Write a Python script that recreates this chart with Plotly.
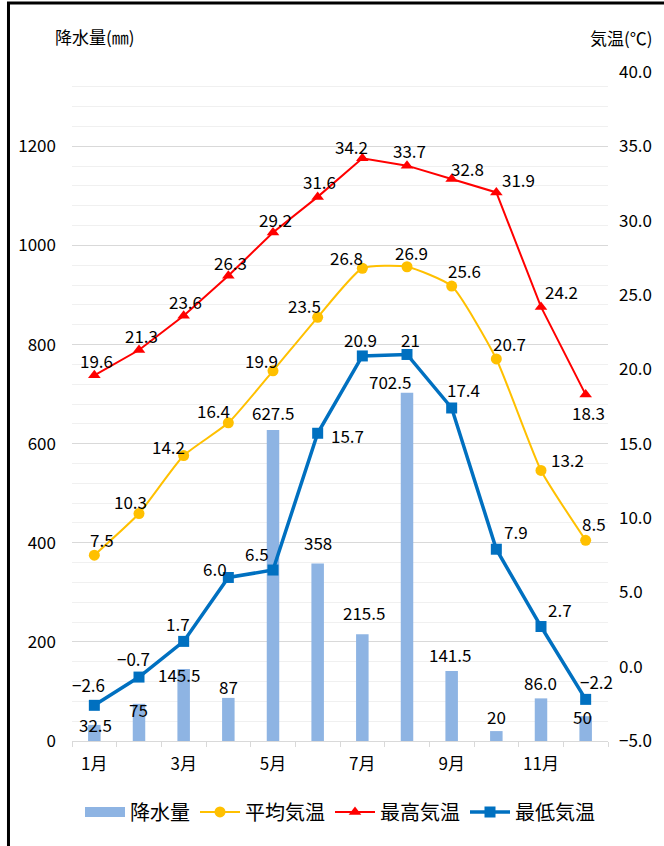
import plotly.graph_objects as go

# ---- data ----
months = ['1月', '2月', '3月', '4月', '5月', '6月', '7月', '8月', '9月', '10月', '11月', '12月']
month_ticktext = ['1月', '', '3月', '', '5月', '', '7月', '', '9月', '', '11月', '']
precip = [32.5, 75, 145.5, 87, 627.5, 358, 215.5, 702.5, 141.5, 20, 86.0, 50]
precip_text = ['32.5', '75', '145.5', '87', '627.5', '358', '215.5', '702.5', '141.5', '20', '86.0', '50']
t_avg = [7.5, 10.3, 14.2, 16.4, 19.9, 23.5, 26.8, 26.9, 25.6, 20.7, 13.2, 8.5]
t_max = [19.6, 21.3, 23.6, 26.3, 29.2, 31.6, 34.2, 33.7, 32.8, 31.9, 24.2, 18.3]
t_min = [-2.6, -0.7, 1.7, 6.0, 6.5, 15.7, 20.9, 21, 17.4, 7.9, 2.7, -2.2]
t_min_text = ['\u22122.6', '\u22120.7', '1.7', '6.0', '6.5', '15.7', '20.9', '21', '17.4', '7.9', '2.7', '\u22122.2']
y2_ticks = [-5, 0, 5, 10, 15, 20, 25, 30, 35, 40]

# ---- label offsets in pixels (dx, up) ----
precip_off = [(1.5, 0), (-1, -6), (-4.5, -6), (0, 11), (0, 18), (0, 21), (1.5, 22), (-17.5, 11),
              (-1.5, 16), (0, 15), (-1, 16), (-3.5, 0)]
max_off = [(2, 14.5), (2, 15), (2, 14), (2, 13), (2, 13.5), (2, 15), (-10.5, 12), (2, 15.5),
           (15.5, 11), (22, 13), (20.5, 15), (3, -18)]
avg_off = [(8, 16), (-9, 12), (-15.5, 9.5), (-14.5, 12), (-12, 10.5), (-13, 12), (-16, 11), (4, 14),
           (13, 15.5), (13, 15), (26, 10.5), (8, 17)]
min_off = [(-5.5, 21), (-6, 18.5), (-6, 17.5), (-13, 8.5), (-16.5, 17), (29.5, -2), (-2, 16.5), (3, 15),
           (11.5, 18), (19.5, 17.5), (19, 17.5), (10.5, 18)]

FONT = "Noto Sans CJK JP"
C_BAR = '#8EB4E3'
C_AVG = '#FFC000'
C_MAX = '#FF0000'
C_MIN = '#0070C0'

fig = go.Figure()
fig.add_trace(go.Bar(x=months, y=precip, name='降水量', marker=dict(color=C_BAR, line=dict(width=0)),
                     yaxis='y', showlegend=False))
# legend-only entry drawn as a wide swatch like the original
fig.add_trace(go.Scatter(x=[None], y=[None], name='降水量', mode='lines', yaxis='y',
                         line=dict(color=C_BAR, width=10)))
fig.add_trace(go.Scatter(x=months, y=t_avg, name='平均気温', mode='lines+markers', yaxis='y2',
                         line=dict(color=C_AVG, width=2, shape='spline', smoothing=0.5),
                         marker=dict(symbol='circle', size=11, color=C_AVG)))
fig.add_trace(go.Scatter(x=months, y=t_max, name='最高気温', mode='lines+markers', yaxis='y2',
                         line=dict(color=C_MAX, width=2),
                         marker=dict(symbol='triangle-up', size=11, color=C_MAX)))
fig.add_trace(go.Scatter(x=months, y=t_min, name='最低気温', mode='lines+markers', yaxis='y2',
                         line=dict(color=C_MIN, width=3.5),
                         marker=dict(symbol='square', size=11, color=C_MIN)))

annotations = []
def add_labels(vals, texts, offs, yref):
    for m, v, t, (dx, up) in zip(months, vals, texts, offs):
        annotations.append(dict(x=m, y=v, xref='x', yref=yref, text=t, showarrow=False,
                                xshift=dx, yshift=up, font=dict(family=FONT, size=17, color='#000000')))

add_labels(precip, precip_text, precip_off, 'y')
add_labels(t_max, [f'{v:.1f}' for v in t_max], max_off, 'y2')
add_labels(t_avg, [f'{v:.1f}' for v in t_avg], avg_off, 'y2')
add_labels(t_min, t_min_text, min_off, 'y2')

annotations.append(dict(x=-0.035, y=1.0538, xref='paper', yref='paper', xanchor='left', yanchor='middle',
                        text='降水量(㎜)', showarrow=False, font=dict(family=FONT, size=17, color='#000000')))
annotations.append(dict(x=0.963, y=1.0523, xref='paper', yref='paper', xanchor='left', yanchor='middle',
                        text='気温(℃)', showarrow=False, font=dict(family=FONT, size=17, color='#000000')))

fig.update_layout(
    width=664, height=846,
    margin=dict(l=72, r=52, t=72, b=105),
    paper_bgcolor='white', plot_bgcolor='white',
    font=dict(family=FONT, size=17, color='#000000'),
    bargap=0.72,
    showlegend=True,
    legend=dict(orientation='h', x=0.5, xanchor='center', y=-0.106, yanchor='middle',
                font=dict(family=FONT, size=20, color='#000000'), traceorder='normal',
                itemwidth=40),
    xaxis=dict(type='category', tickmode='array', tickvals=months, ticktext=month_ticktext,
               tickson='boundaries', ticks='outside', ticklen=5, tickcolor='#D9D9D9', tickangle=0,
               showline=True, linecolor='#D9D9D9', linewidth=1, showgrid=False, ticklabelstandoff=8,
               tickfont=dict(family=FONT, size=17), range=[-0.5, 11.5]),
    yaxis=dict(range=[0, 1350], tickvals=[0, 200, 400, 600, 800, 1000, 1200], showgrid=True,
               gridcolor='#D9D9D9', gridwidth=1, zeroline=False, showline=False, ticks='',
               ticklabelstandoff=15,
               minor=dict(dtick=40, tick0=0, showgrid=True, gridcolor='#F0F0F0', gridwidth=1),
               tickfont=dict(family=FONT, size=17)),
    yaxis2=dict(range=[-5, 40], tickvals=y2_ticks, tickformat='.1f', overlaying='y', side='right',
                showgrid=False, zeroline=False, showline=False, ticks='', ticklabelstandoff=10,
                tickfont=dict(family=FONT, size=17)),
    annotations=annotations,
    shapes=[dict(type='rect', xref='paper', yref='paper', x0=-0.1185, x1=1.3, y0=-0.3, y1=1.1031,
                 line=dict(color='#000000', width=3), fillcolor='rgba(0,0,0,0)', layer='above')],
)

fig.write_html("out.html", config={'displayModeBar': False},
               post_script="document.body.style.margin='0';")
